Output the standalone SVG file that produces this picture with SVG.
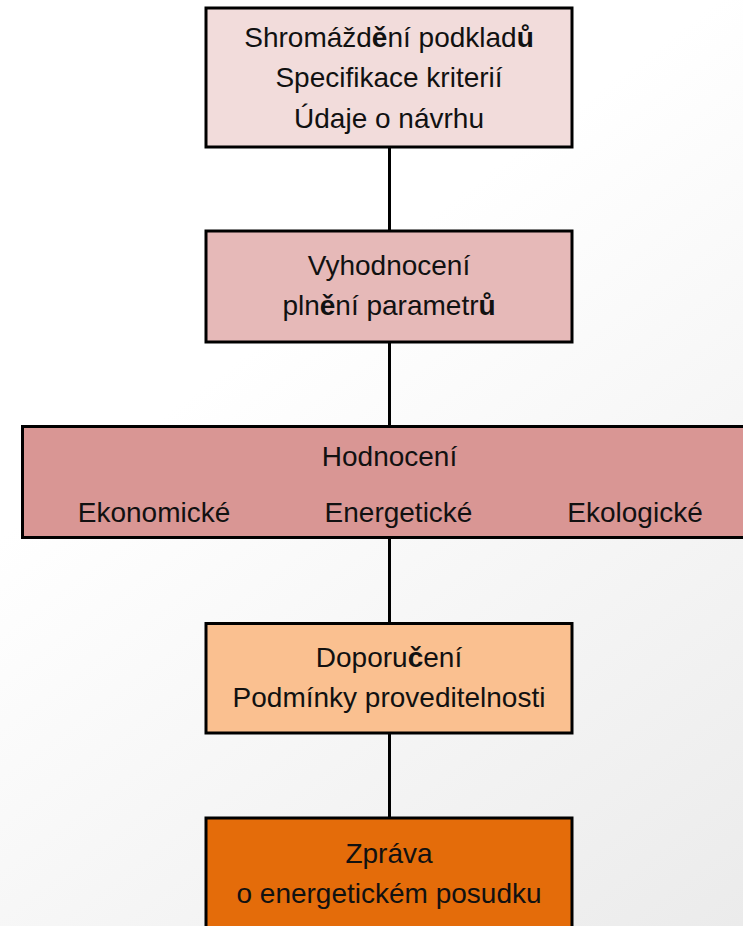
<svg xmlns="http://www.w3.org/2000/svg" width="743" height="926" viewBox="0 0 743 926">
  <defs>
    <linearGradient id="bg" x1="0.55" y1="0.25" x2="1" y2="1">
      <stop offset="0" stop-color="#ffffff"/>
      <stop offset="1" stop-color="#ebebeb"/>
    </linearGradient>
  </defs>
  <style>
    .box { stroke: #000; stroke-width: 3; }
    .t { font-family: "Liberation Sans", Arial, sans-serif; font-size: 28px; fill: #111; text-anchor: middle; }
    .b { font-weight: bold; }
    .conn { stroke: #000; stroke-width: 3; fill: none; }
  </style>
  <rect x="0" y="0" width="743" height="926" fill="url(#bg)"/>

  <g id="connectors">
    <line class="conn" x1="389.5" y1="147" x2="389.5" y2="231"/>
    <line class="conn" x1="389.5" y1="342" x2="389.5" y2="426"/>
    <line class="conn" x1="389.5" y1="537" x2="389.5" y2="623"/>
    <line class="conn" x1="389.5" y1="733" x2="389.5" y2="818"/>
  </g>

  <g id="node-podklady">
    <rect class="box" x="206" y="8" width="366" height="139" fill="#F2DCDB"/>
    <text class="t" x="389" y="47">Shromážd<tspan class="b">ě</tspan>ní podklad<tspan class="b">ů</tspan></text>
    <text class="t" x="389" y="87">Specifikace kriterií</text>
    <text class="t" x="389" y="128">Údaje o návrhu</text>
  </g>

  <g id="node-vyhodnoceni">
    <rect class="box" x="206" y="231" width="366" height="111" fill="#E6B9B8"/>
    <text class="t" x="389" y="275">Vyhodnocení</text>
    <text class="t" x="389" y="315">pln<tspan class="b">ě</tspan>ní parametr<tspan class="b">ů</tspan></text>
  </g>

  <g id="node-hodnoceni">
    <rect class="box" x="22.5" y="426.5" width="740" height="111" fill="#D99694"/>
    <text class="t" x="389.5" y="466">Hodnocení</text>
    <text class="t" x="154" y="522">Ekonomické</text>
    <text class="t" x="398.5" y="522">Energetické</text>
    <text class="t" x="635" y="522">Ekologické</text>
  </g>

  <g id="node-doporuceni">
    <rect class="box" x="206" y="623.5" width="366" height="109.5" fill="#FAC090"/>
    <text class="t" x="389" y="667">Doporu<tspan class="b">č</tspan>ení</text>
    <text class="t" x="389" y="707">Podmínky proveditelnosti</text>
  </g>

  <g id="node-zprava">
    <rect class="box" x="206" y="818" width="366" height="130" fill="#E46C0A"/>
    <text class="t" x="389" y="863">Zpráva</text>
    <text class="t" x="389" y="903">o energetickém posudku</text>
  </g>
</svg>
